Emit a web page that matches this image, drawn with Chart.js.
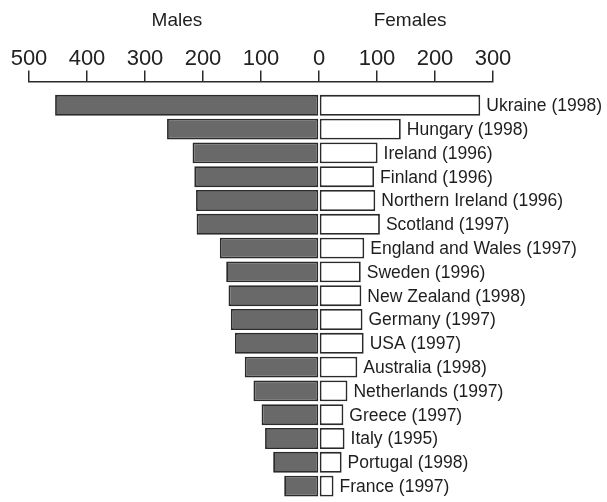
<!DOCTYPE html>
<html>
<head>
<meta charset="utf-8">
<script src="https://cdn.jsdelivr.net/npm/chart.js@4.4.0/dist/chart.umd.min.js"></script>
<style>
  body { margin: 0; background: #fff; }
  #wrap { width: 607px; height: 502px; }
</style>
</head>
<body>
<div id="wrap"><canvas id="myChart" width="607" height="502"></canvas></div>
<script>
const countries = ['Ukraine (1998)', 'Hungary (1998)', 'Ireland (1996)', 'Finland (1996)',
  'Northern Ireland (1996)', 'Scotland (1997)', 'England and Wales (1997)', 'Sweden (1996)',
  'New Zealand (1998)', 'Germany (1997)', 'USA (1997)', 'Australia (1998)',
  'Netherlands (1997)', 'Greece (1997)', 'Italy (1995)', 'Portugal (1998)', 'France (1997)'];
const males = [455, 262, 218, 215, 212, 211, 171, 160, 156, 152, 145, 128, 113, 99, 93, 79, 60];
const females = [278, 141, 101, 95, 97, 105, 78, 72, 73, 75, 77, 66, 49, 42, 44, 39, 25];
const xTicks = [-500, -400, -300, -200, -100, 0, 100, 200, 300];

const FONT = '"Liberation Sans", Arial, sans-serif';
const ctx = document.getElementById('myChart').getContext('2d');

// country names at the end of the female bars, and the two side titles
const labelPlugin = {
  id: 'labels',
  afterDatasetsDraw(chart) {
    const c = chart.ctx;
    const meta = chart.getDatasetMeta(1);
    c.save();
    c.fillStyle = '#1e1e1e';
    c.font = '17.5px ' + FONT;
    c.textAlign = 'left';
    c.textBaseline = 'middle';
    meta.data.forEach((bar, i) => {
      c.fillText(countries[i], bar.x + 6, bar.y + 1);
    });
    const xs = chart.scales.x;
    c.font = '19px ' + FONT;
    c.textAlign = 'center';
    c.fillText('Males', xs.getPixelForValue(-245), 21);
    c.fillText('Females', xs.getPixelForValue(157), 21);
    c.restore();
  }
};

const myChart = new Chart(ctx, {
  type: 'bar',
  data: {
    labels: countries,
    datasets: [{
      label: 'Males',
      data: males.map(v => -v),
      backgroundColor: '#696969',
      borderColor: '#2a2a2a',
      borderWidth: 1.8,
      borderSkipped: false,
      categoryPercentage: 1,
      barPercentage: 0.88
    }, {
      label: 'Females',
      data: females,
      backgroundColor: '#fff',
      borderColor: '#2a2a2a',
      borderWidth: 1.8,
      borderSkipped: false,
      categoryPercentage: 1,
      barPercentage: 0.88
    }]
  },
  options: {
    indexAxis: 'y',
    responsive: false,
    animation: false,
    layout: { padding: { left: 29, right: 114, top: 48, bottom: 4 } },
    scales: {
      x: {
        position: 'top',
        weight: 1,
        stacked: true,
        min: -500,
        max: 300,
        afterBuildTicks: s => { s.ticks = xTicks.map(v => ({ value: v })); },
        ticks: {
          color: '#222',
          font: { family: FONT, size: 22 },
          padding: -2,
          maxRotation: 0,
          callback: v => Math.abs(v)
        },
        grid: { drawOnChartArea: false, drawTicks: true, tickLength: 11, color: '#2a2a2a', lineWidth: 1.5 },
        border: { display: true, color: '#2a2a2a', width: 1.5 }
      },
      // empty spacer so the axis line sits a little above the first bar
      gap: {
        type: 'linear',
        axis: 'x',
        position: 'top',
        weight: 0,
        display: true,
        ticks: { display: false },
        grid: { display: false, drawTicks: false },
        border: { display: false },
        afterFit: s => { s.height = 12; }
      },
      y: {
        stacked: true,
        display: false
      }
    },
    plugins: {
      legend: { display: false },
      tooltip: { enabled: false }
    }
  },
  plugins: [labelPlugin]
});
</script>
</body>
</html>
